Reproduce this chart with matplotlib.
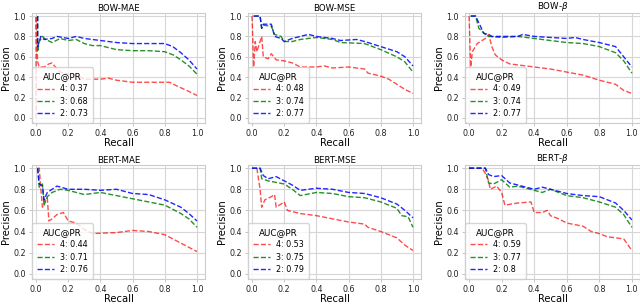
import numpy as np
import matplotlib.pyplot as plt

titles = ['BOW-MAE', 'BOW-MSE', r'BOW-$\beta$', 'BERT-MAE', 'BERT-MSE', r'BERT-$\beta$']
auc4 = [0.37, 0.48, 0.49, 0.44, 0.53, 0.59]
auc3 = [0.68, 0.74, 0.74, 0.71, 0.75, 0.77]
auc2 = [0.73, 0.77, 0.77, 0.76, 0.79, 0.8]

# (recall, precision) points
bow_mae_4 = [(0, 0), (0, 1.0), (0.01, 0.55), (0.02, 0.5), (0.05, 0.5), (0.08, 0.53), (0.1, 0.54),
             (0.12, 0.5), (0.15, 0.45), (0.2, 0.43), (0.25, 0.42), (0.3, 0.38), (0.4, 0.38),
             (0.45, 0.39), (0.5, 0.37), (0.6, 0.35), (0.7, 0.35), (0.83, 0.35), (0.88, 0.31),
             (0.95, 0.26), (1.0, 0.22)]
bow_mae_3 = [(0.01, 1.0), (0.01, 0.65), (0.02, 0.75), (0.04, 0.8), (0.06, 0.77), (0.1, 0.74),
             (0.15, 0.78), (0.2, 0.76), (0.25, 0.77), (0.3, 0.73), (0.35, 0.71), (0.4, 0.71),
             (0.5, 0.67), (0.6, 0.66), (0.7, 0.66), (0.8, 0.65), (0.85, 0.62), (0.9, 0.57),
             (0.95, 0.51), (1.0, 0.43)]
bow_mae_2 = [(0.01, 1.0), (0.01, 0.7), (0.03, 0.8), (0.05, 0.77), (0.1, 0.78), (0.13, 0.8),
             (0.2, 0.78), (0.25, 0.8), (0.3, 0.78), (0.4, 0.76), (0.5, 0.74), (0.6, 0.73),
             (0.7, 0.73), (0.8, 0.73), (0.85, 0.7), (0.9, 0.64), (0.95, 0.57), (1.0, 0.48)]

bow_mse_4 = [(0, 1.0), (0.01, 0.5), (0.02, 0.75), (0.03, 0.65), (0.06, 0.8), (0.07, 0.6),
             (0.1, 0.58), (0.12, 0.63), (0.15, 0.57), (0.2, 0.56), (0.25, 0.54), (0.3, 0.5),
             (0.4, 0.5), (0.45, 0.51), (0.5, 0.49), (0.6, 0.5), (0.7, 0.48), (0.72, 0.44),
             (0.8, 0.41), (0.85, 0.38), (0.9, 0.33), (0.95, 0.28), (1.0, 0.24)]
bow_mse_3 = [(0.01, 1.0), (0.05, 1.0), (0.06, 0.88), (0.07, 0.91), (0.12, 0.9), (0.14, 0.82),
             (0.18, 0.8), (0.2, 0.75), (0.25, 0.75), (0.3, 0.77), (0.35, 0.78), (0.4, 0.79),
             (0.5, 0.77), (0.55, 0.74), (0.7, 0.73), (0.8, 0.67), (0.9, 0.6), (0.95, 0.55),
             (1.0, 0.45)]
bow_mse_2 = [(0.01, 1.0), (0.05, 1.0), (0.06, 0.88), (0.07, 0.92), (0.12, 0.92), (0.14, 0.8),
             (0.18, 0.78), (0.2, 0.75), (0.25, 0.78), (0.35, 0.82), (0.4, 0.8), (0.5, 0.78),
             (0.55, 0.76), (0.65, 0.77), (0.7, 0.75), (0.8, 0.7), (0.9, 0.65), (0.95, 0.6),
             (1.0, 0.51)]

bow_b_4 = [(0, 1.0), (0.01, 0.5), (0.02, 0.65), (0.05, 0.73), (0.1, 0.78), (0.12, 0.82),
           (0.14, 0.7), (0.16, 0.62), (0.2, 0.57), (0.25, 0.53), (0.3, 0.52), (0.4, 0.5),
           (0.5, 0.48), (0.6, 0.45), (0.7, 0.42), (0.8, 0.37), (0.9, 0.33), (0.95, 0.27),
           (1.0, 0.24)]
bow_b_3 = [(0.01, 1.0), (0.04, 1.0), (0.06, 0.88), (0.08, 0.85), (0.1, 0.82), (0.12, 0.8),
           (0.2, 0.79), (0.3, 0.8), (0.4, 0.78), (0.5, 0.76), (0.6, 0.74), (0.7, 0.73),
           (0.8, 0.7), (0.9, 0.64), (0.95, 0.56), (1.0, 0.44)]
bow_b_2 = [(0.01, 1.0), (0.04, 1.0), (0.07, 0.9), (0.09, 0.83), (0.12, 0.82), (0.14, 0.8),
           (0.2, 0.8), (0.3, 0.8), (0.33, 0.82), (0.4, 0.8), (0.5, 0.79), (0.6, 0.78),
           (0.65, 0.79), (0.7, 0.77), (0.8, 0.74), (0.9, 0.7), (0.95, 0.6), (1.0, 0.5)]

bert_mae_4 = [(0.01, 1.0), (0.02, 1.0), (0.03, 0.8), (0.04, 0.63), (0.05, 0.68), (0.07, 0.72),
              (0.08, 0.5), (0.1, 0.52), (0.13, 0.56), (0.17, 0.58), (0.2, 0.5), (0.25, 0.48),
              (0.3, 0.42), (0.35, 0.38), (0.5, 0.39), (0.6, 0.41), (0.7, 0.4), (0.8, 0.37),
              (0.85, 0.33), (0.9, 0.29), (0.95, 0.25), (1.0, 0.21)]
bert_mae_3 = [(0.01, 1.0), (0.02, 0.82), (0.04, 0.85), (0.05, 0.65), (0.07, 0.73), (0.1, 0.77),
              (0.15, 0.8), (0.2, 0.79), (0.3, 0.75), (0.4, 0.77), (0.5, 0.74), (0.6, 0.71),
              (0.7, 0.68), (0.8, 0.65), (0.9, 0.57), (0.95, 0.52), (1.0, 0.44)]
bert_mae_2 = [(0.01, 1.0), (0.02, 0.85), (0.04, 0.83), (0.05, 0.7), (0.07, 0.77), (0.1, 0.8),
              (0.13, 0.83), (0.2, 0.8), (0.3, 0.8), (0.4, 0.79), (0.5, 0.8), (0.6, 0.76),
              (0.7, 0.75), (0.8, 0.7), (0.9, 0.63), (0.95, 0.57), (1.0, 0.5)]

bert_mse_4 = [(0.03, 1.0), (0.04, 0.9), (0.05, 0.8), (0.06, 0.63), (0.08, 0.7), (0.12, 0.73),
              (0.14, 0.75), (0.15, 0.63), (0.2, 0.68), (0.22, 0.6), (0.3, 0.57), (0.4, 0.55),
              (0.5, 0.52), (0.6, 0.49), (0.7, 0.47), (0.72, 0.44), (0.8, 0.4), (0.9, 0.34),
              (0.95, 0.27), (1.0, 0.22)]
bert_mse_3 = [(0.0, 1.0), (0.05, 1.0), (0.06, 0.9), (0.1, 0.88), (0.2, 0.85), (0.25, 0.8),
              (0.3, 0.74), (0.4, 0.77), (0.5, 0.76), (0.6, 0.73), (0.7, 0.72), (0.8, 0.68),
              (0.9, 0.62), (0.93, 0.55), (0.97, 0.54), (1.0, 0.44)]
bert_mse_2 = [(0.0, 1.0), (0.05, 1.0), (0.07, 0.93), (0.1, 0.9), (0.15, 0.92), (0.2, 0.88),
              (0.25, 0.84), (0.3, 0.79), (0.4, 0.81), (0.5, 0.8), (0.6, 0.77), (0.7, 0.76),
              (0.8, 0.72), (0.9, 0.66), (0.95, 0.6), (1.0, 0.53)]

bert_b_4 = [(0.0, 1.0), (0.08, 1.0), (0.1, 0.95), (0.12, 0.88), (0.13, 0.8), (0.17, 0.83),
            (0.2, 0.77), (0.22, 0.65), (0.3, 0.67), (0.38, 0.68), (0.4, 0.58), (0.45, 0.58),
            (0.48, 0.6), (0.5, 0.55), (0.55, 0.52), (0.6, 0.48), (0.7, 0.45), (0.75, 0.4),
            (0.8, 0.38), (0.85, 0.35), (0.95, 0.33), (1.0, 0.22)]
bert_b_3 = [(0.0, 1.0), (0.1, 1.0), (0.12, 0.86), (0.15, 0.85), (0.2, 0.89), (0.25, 0.82),
            (0.3, 0.83), (0.4, 0.79), (0.45, 0.77), (0.5, 0.8), (0.6, 0.74), (0.7, 0.72),
            (0.8, 0.68), (0.9, 0.63), (0.95, 0.56), (1.0, 0.44)]
bert_b_2 = [(0.0, 1.0), (0.1, 1.0), (0.12, 0.94), (0.15, 0.92), (0.2, 0.93), (0.25, 0.86),
            (0.3, 0.84), (0.4, 0.8), (0.45, 0.82), (0.5, 0.8), (0.6, 0.76), (0.7, 0.74),
            (0.8, 0.73), (0.9, 0.67), (0.95, 0.6), (1.0, 0.51)]

curves = [(bow_mae_4, bow_mae_3, bow_mae_2), (bow_mse_4, bow_mse_3, bow_mse_2),
          (bow_b_4, bow_b_3, bow_b_2), (bert_mae_4, bert_mae_3, bert_mae_2),
          (bert_mse_4, bert_mse_3, bert_mse_2), (bert_b_4, bert_b_3, bert_b_2)]

W, H = 640, 307
fig = plt.figure(figsize=(W / 100, H / 100), dpi=100)

# pixel boxes: left, right / top, bottom
cols = [(32, 205), (248, 421), (465, 640)]
rows = [(13, 123), (165, 279)]

for k in range(6):
    r, c = divmod(k, 3)
    l, rr = cols[c]
    t, b = rows[r]
    ax = fig.add_axes([l / W, 1 - b / H, (rr - l) / W, (b - t) / H])
    for pts, col, a, lab in zip(curves[k], ['red', 'green', 'blue'], [0.7, 0.85, 0.85],
                                ['4: %s' % auc4[k], '3: %s' % auc3[k], '2: %s' % auc2[k]]):
        p = np.array(pts)
        ax.plot(p[:, 0], p[:, 1], '--', color=col, lw=1, alpha=a, label=lab)
    ax.set_xlim(-0.025, 1.05)
    ax.set_ylim(-0.05, 1.03)
    ax.set_xticks([0, 0.2, 0.4, 0.6, 0.8, 1.0])
    ax.set_yticks([0, 0.2, 0.4, 0.6, 0.8, 1.0])
    ax.grid(True, color='#d6d6d6', lw=0.8)
    ax.set_axisbelow(True)
    for s in ax.spines.values():
        s.set_color('#cccccc')
        s.set_linewidth(0.8)
    ax.tick_params(labelsize=5.8, length=2.5, width=0.6, color='#bbbbbb', pad=2, labelcolor='#222222')
    ax.set_title(titles[k], fontsize=6.2, pad=1.5)
    ax.set_xlabel('Recall', fontsize=7.2, labelpad=0)
    ax.set_ylabel('Precision', fontsize=7.2, labelpad=1.5)
    ax.legend(title='AUC@PR', loc='lower left', fontsize=5.8, title_fontsize=6.3,
              borderaxespad=0.05, handlelength=2.1, handletextpad=0.75, labelspacing=0.4,
              borderpad=0.6, framealpha=0.8, edgecolor='#cccccc', fancybox=True)

fig.savefig('out.png', dpi=100)
